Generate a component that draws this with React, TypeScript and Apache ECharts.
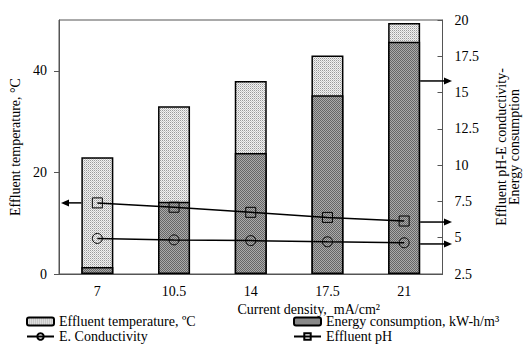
import React, { useEffect, useRef } from "react";
import * as echarts from "echarts";

const categories = ["7", "10.5", "14", "17.5", "21"];
const temperature = [23, 33, 38, 43, 49.4];
const energy = [1.4, 14.2, 23.8, 35.2, 45.7];
const conductivity = [4.95, 4.85, 4.8, 4.72, 4.65];
const effluentPH = [7.4, 7.1, 6.75, 6.4, 6.15];
const leftArrowValues = [7.4];
const rightArrowValues = [15.8, 6.08, 4.57];

const FONT = "Liberation Serif";
const GRID = { left: 59, right: 78, top: 20, bottom: 72 };
const W = 529;
const H = 346;
const BAR_W = 32;

function makePattern(colors: string[][]) {
  const n = colors.length;
  const c = document.createElement("canvas");
  c.width = n;
  c.height = n;
  const ctx = c.getContext("2d")!;
  for (let y = 0; y < n; y++) {
    for (let x = 0; x < n; x++) {
      ctx.fillStyle = colors[y][x];
      ctx.fillRect(x, y, 1, 1);
    }
  }
  return { image: c, repeat: "repeat" as const };
}

export default function App() {
  const ref = useRef<HTMLDivElement>(null);
  useEffect(() => {
    if (!ref.current) return;
    const chart = echarts.init(ref.current, null, { renderer: "svg" });
    const tempPattern = makePattern([
      ["#9a9a9a", "#f2f2f2"],
      ["#f2f2f2", "#c8c8c8"],
    ]);
    const energyPattern = makePattern([
      ["#666666", "#ababab"],
      ["#ababab", "#666666"],
    ]);
    const axisColor = "#555";
    const textBase = { color: "#000", fontFamily: FONT, fontSize: 14 };
    const legendBase = {
      orient: "vertical" as const,
      top: 314,
      itemWidth: 27,
      itemHeight: 8,
      itemGap: 0,
      padding: 0,
      textStyle: { ...textBase, lineHeight: 15 },
    };
    chart.setOption({
      animation: false,
      backgroundColor: "#fff",
      textStyle: { fontFamily: FONT },
      grid: { ...GRID, show: true, borderColor: axisColor, borderWidth: 1, backgroundColor: "transparent" },
      legend: [
        { ...legendBase, left: 26, data: ["Effluent temperature, ºC", "E. Conductivity"] },
        { ...legendBase, left: 293, data: ["Energy consumption, kW-h/m³", "Effluent pH"] },
      ],
      xAxis: {
        type: "category",
        data: categories,
        boundaryGap: true,
        axisLine: { lineStyle: { color: axisColor, width: 1 } },
        axisTick: { inside: true, length: 5, lineStyle: { color: axisColor } },
        axisLabel: { ...textBase, margin: 10 },
        name: "Current density,  mA/cm²",
        nameLocation: "middle",
        nameGap: 27,
        nameTextStyle: { ...textBase, padding: [0, 0, 0, 116] },
      },
      yAxis: [
        {
          type: "value",
          min: 0,
          max: 50,
          interval: 20,
          position: "left",
          axisLine: { show: true, lineStyle: { color: axisColor, width: 1 } },
          axisTick: { show: true, inside: false, length: 5, lineStyle: { color: axisColor }, customValues: [0, 20, 40] },
          axisLabel: {
            ...textBase,
            margin: 12,
            formatter: (v: number) => (v === 50 ? "" : String(v)),
          },
          splitLine: { show: false },
          name: "Effluent temperature, °C",
          nameLocation: "middle",
          nameGap: 37,
          nameRotate: 90,
          nameTextStyle: { ...textBase },
        },
        {
          type: "value",
          min: 2.5,
          max: 20,
          interval: 2.5,
          position: "right",
          axisLine: { show: true, lineStyle: { color: axisColor, width: 1 } },
          axisTick: { show: true, inside: true, length: 5, lineStyle: { color: axisColor } },
          axisLabel: { ...textBase, margin: 12 },
          splitLine: { show: false },
          name: "Effluent pH-E conductivity-\nEnergy consumption",
          nameLocation: "middle",
          nameGap: 52,
          nameRotate: 90,
          nameTextStyle: { ...textBase, fontSize: 14, lineHeight: 13 },
        },
      ],
      series: [
        {
          name: "Effluent temperature, ºC",
          type: "bar",
          yAxisIndex: 0,
          data: temperature,
          barWidth: BAR_W,
          barGap: "-100%",
          itemStyle: { color: tempPattern, borderColor: "#000", borderWidth: 1.5 },
        },
        {
          name: "Energy consumption, kW-h/m³",
          type: "bar",
          yAxisIndex: 0,
          data: energy,
          barWidth: BAR_W,
          barGap: "-100%",
          itemStyle: { color: energyPattern, borderColor: "#000", borderWidth: 1.5 },
        },
        {
          name: "E. Conductivity",
          type: "line",
          yAxisIndex: 1,
          data: conductivity,
          symbol: "circle",
          symbolSize: 10,
          lineStyle: { color: "#000", width: 1.5 },
          itemStyle: { color: "transparent", borderColor: "#000", borderWidth: 1 },
        },
        {
          name: "Effluent pH",
          type: "line",
          yAxisIndex: 1,
          data: effluentPH,
          symbol: "rect",
          symbolSize: 10,
          lineStyle: { color: "#000", width: 1.5 },
          itemStyle: { color: "transparent", borderColor: "#000", borderWidth: 1 },
        },
      ],
    });

    const gridL = GRID.left;
    const gridR = W - GRID.right;
    const xFirst = chart.convertToPixel({ xAxisIndex: 0 }, categories[0]) as number;
    const xLast = chart.convertToPixel({ xAxisIndex: 0 }, categories[categories.length - 1]) as number;
    const graphics: any[] = [];
    const arrowStyle = { stroke: "#000", lineWidth: 1.5 };
    leftArrowValues.forEach((v) => {
      const y = chart.convertToPixel({ yAxisIndex: 1 }, v) as number;
      const tip = gridL + 2;
      graphics.push({ type: "line", shape: { x1: xFirst - BAR_W / 2, y1: y, x2: tip + 6, y2: y }, style: arrowStyle, z: 10 });
      graphics.push({ type: "polygon", shape: { points: [[tip, y], [tip + 8, y - 3.5], [tip + 8, y + 3.5]] }, style: { fill: "#000" }, z: 10 });
    });
    rightArrowValues.forEach((v) => {
      const y = chart.convertToPixel({ yAxisIndex: 1 }, v) as number;
      const tip = gridR + 1;
      graphics.push({ type: "line", shape: { x1: xLast + BAR_W / 2, y1: y, x2: tip - 6, y2: y }, style: arrowStyle, z: 10 });
      graphics.push({ type: "polygon", shape: { points: [[tip, y], [tip - 8, y - 3.5], [tip - 8, y + 3.5]] }, style: { fill: "#000" }, z: 10 });
    });
    chart.setOption({ graphic: graphics });

    return () => chart.dispose();
  }, []);
  return <div ref={ref} style={{ position: "fixed", left: 0, top: 0, width: W, height: H }} />;
}
